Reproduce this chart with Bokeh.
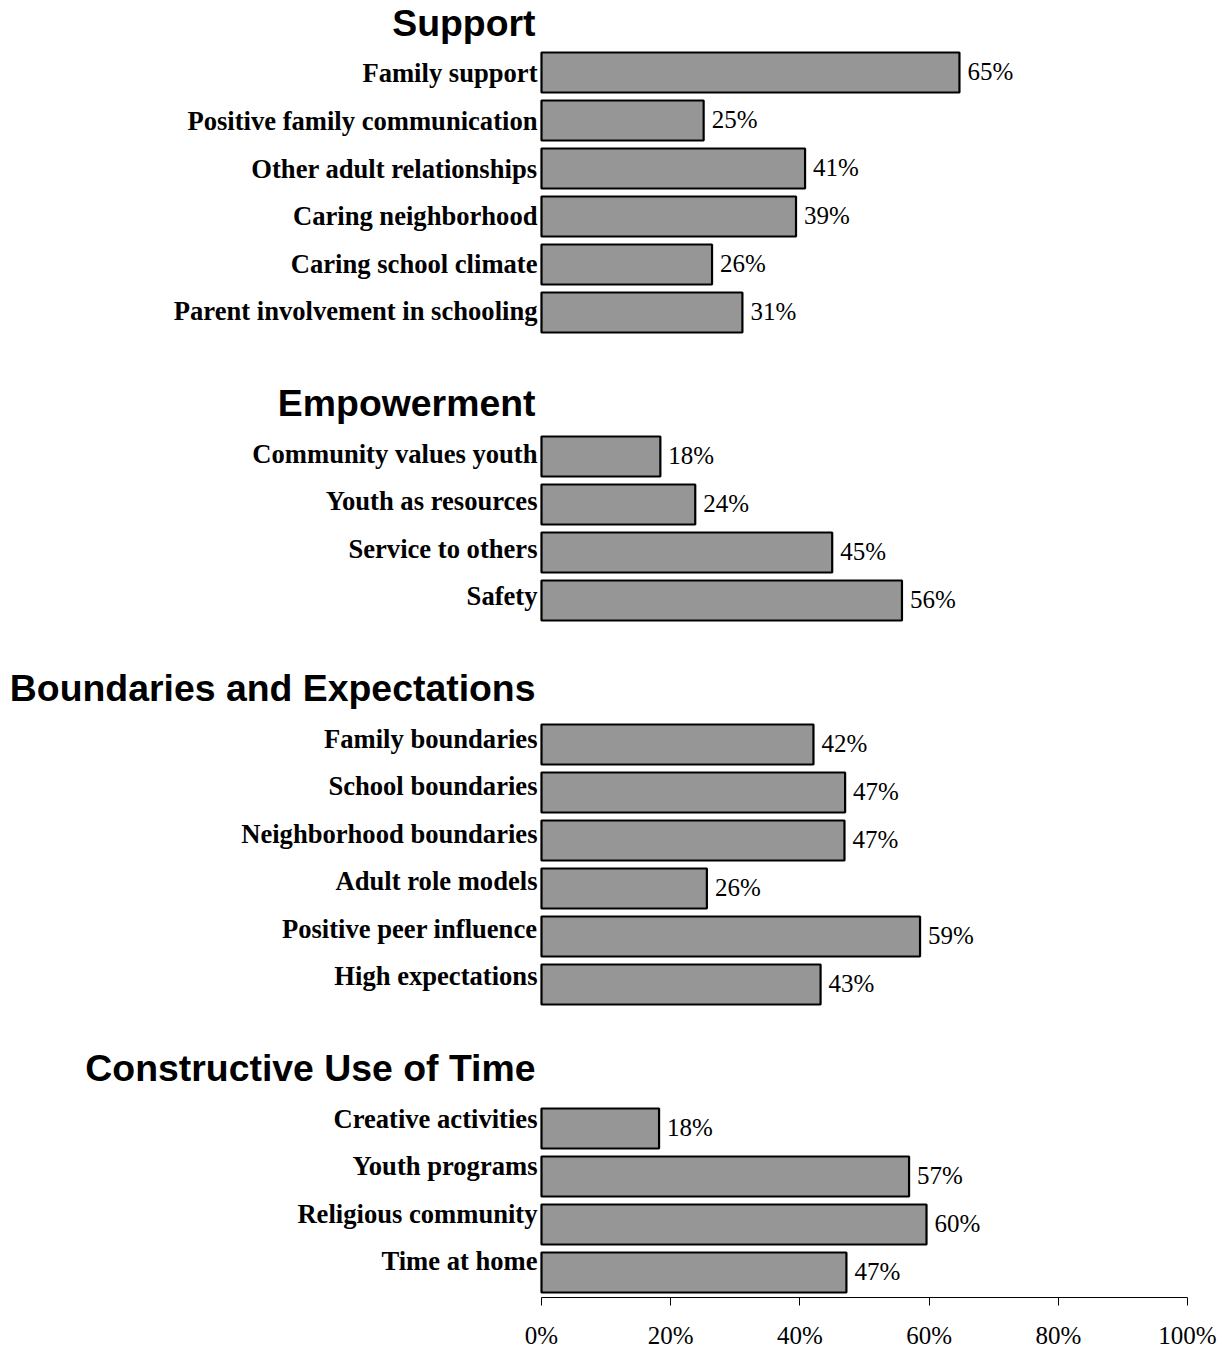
from bokeh.plotting import figure
from bokeh.models import ColumnDataSource, Range1d, FixedTicker, PrintfTickFormatter
from bokeh.core.properties import value
from bokeh.embed import file_html
from bokeh.resources import INLINE

# ---- data ----
group_names = ["Support", "Empowerment", "Boundaries and Expectations", "Constructive Use of Time"]

support_labels = ["Family support", "Positive family communication", "Other adult relationships",
                  "Caring neighborhood", "Caring school climate", "Parent involvement in schooling"]
support_values = [64.7, 25.1, 40.8, 39.4, 26.4, 31.1]

empower_labels = ["Community values youth", "Youth as resources", "Service to others", "Safety"]
empower_values = [18.4, 23.8, 45.0, 55.8]

bound_labels = ["Family boundaries", "School boundaries", "Neighborhood boundaries",
                "Adult role models", "Positive peer influence", "High expectations"]
bound_values = [42.1, 47.0, 46.9, 25.6, 58.6, 43.2]

time_labels = ["Creative activities", "Youth programs", "Religious community", "Time at home"]
time_values = [18.2, 56.9, 59.6, 47.2]

tick_values = [0, 20, 40, 60, 80, 100]

groups = [(group_names[0], support_labels, support_values),
          (group_names[1], empower_labels, empower_values),
          (group_names[2], bound_labels, bound_values),
          (group_names[3], time_labels, time_values)]

# ---- layout constants (pixels) ----
W = 1228
FRAME_H = 1297
ZERO_PX = 541.0        # x pixel of 0%
PX_PER_UNIT = 6.46     # pixels per percent
ROW_PX = 48.0
FIRST_ROW_PX = 72.0    # center of first bar from frame top
TEXT_DRIFT = 0.99

rows, labels, vals, vtext, label_y = [], [], [], [], []
head_y, head_text = [], []
start = 0
for name, labs, vs in groups:
    head_text.append(name)
    head_y.append(start * TEXT_DRIFT - 1.04)
    for i, (lab, v) in enumerate(zip(labs, vs)):
        r = start + i
        rows.append(r)
        labels.append(lab)
        vals.append(v)
        vtext.append(f"{round(v)}%")
        label_y.append(r * TEXT_DRIFT + 0.02)
    start = start + len(labs) + 2

src = ColumnDataSource(dict(y=rows, v=vals, vt=vtext, lab=labels, ly=label_y))
hsrc = ColumnDataSource(dict(y=head_y, t=head_text, x=[0] * len(head_y)))

x_start = -ZERO_PX / PX_PER_UNIT
x_end = (W - ZERO_PX) / PX_PER_UNIT
y_top = -FIRST_ROW_PX / ROW_PX
y_bottom = (FRAME_H - FIRST_ROW_PX) / ROW_PX

p = figure(frame_width=W, frame_height=FRAME_H, output_backend="svg", toolbar_location=None,
           x_range=Range1d(x_start, x_end), y_range=Range1d(y_bottom, y_top),
           y_axis_location=None, min_border=0)
p.outline_line_color = None
p.xgrid.visible = False
p.ygrid.visible = False
p.background_fill_color = "white"
p.border_fill_color = "white"

p.hbar(y="y", left=0, right="v", height=40 / ROW_PX, source=src,
       fill_color="#969696", line_color="black", line_width=2.2)

p.text(x="v", y="y", text="vt", source=src, x_offset=8, y_offset=-1,
       text_font=value("Liberation Serif"), text_font_size="25px",
       text_align="left", text_baseline="middle", text_color="black")

p.text(x=0, y="ly", text="lab", source=src, x_offset=-4,
       text_font=value("Liberation Serif"), text_font_style="bold", text_font_size="26.6px",
       text_align="right", text_baseline="middle", text_color="black")

p.text(x="x", y="y", text="t", source=hsrc, x_offset=-6,
       text_font=value("Liberation Sans"), text_font_style="bold", text_font_size="37.4px",
       text_align="right", text_baseline="alphabetic", text_color="black")

ax = p.xaxis[0]
ax.bounds = (0, 100)
ax.ticker = FixedTicker(ticks=tick_values)
ax.formatter = PrintfTickFormatter(format="%d%%")
ax.major_tick_in = 0
ax.major_tick_out = 8
ax.minor_tick_line_color = None
ax.axis_line_color = "black"
ax.axis_line_width = 1
ax.major_tick_line_color = "black"
ax.major_label_text_font = "Liberation Serif"
ax.major_label_text_font_size = "25px"
ax.major_label_text_color = "black"
ax.major_label_standoff = 16

open("out.html", "w").write(file_html(p, INLINE))
